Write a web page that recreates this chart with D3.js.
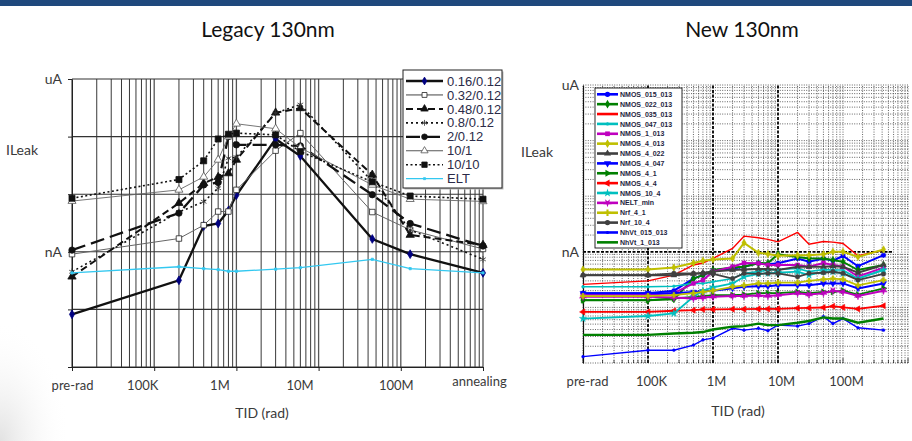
<!DOCTYPE html>
<html>
<head>
<meta charset="utf-8">
<title>Legacy vs New 130nm - ILeak vs TID</title>
<script src="https://cdn.jsdelivr.net/npm/d3@7"></script>
<style>
  body { margin: 0; background: #fff; }
  svg { display: block; font-family: Lato, "Open Sans", sans-serif; }
</style>
</head>
<body>
<script>
const W = 912, H = 441;

// ---- Legacy 130nm : leakage in nA, TID in rad (pre-rad drawn at 1e4, annealing at 1e9)
const legacyTid = [1e4, 2e5, 4e5, 6e5, 8e5, 1e6, 3e6, 6e6, 4.5e7, 1.3e8, 1e9];
const legacyNames = ["0.16/0.12", "0.32/0.12", "0.48/0.12", "0.8/0.12", "2/0.12", "10/1", "10/10", "ELT"];
const leg016 = [0.082, 0.32, 2.8, 3.1, 5.2, 9.6, 91, 46, 1.67, 0.91, 0.43];
const leg032 = [0.91, 1.7, 2.9, 5.0, 5.0, 11.9, 57, 115, 4.9, 2.4, 1.12];
const leg048 = [0.37, 7.0, 15.5, 19.8, 23, 39.5, 260, 310, 21.7, 1.96, 1.31];
const leg08 = [0.45, 4.9, 7.4, 12.7, 42, 44, 256, 360, 16.6, 2.4, 0.74];
const leg2 = [1.07, 4.7, 14.5, 16, 100, 72, 72, 69, 9.8, 3.1, 1.26];
const leg10_1 = [7.6, 11.9, 20, 39.5, 100, 167, 137, 64, 14.5, 8.2, 7.5];
const leg10_10 = [8.5, 18, 38, 91, 110, 115, 107, 55, 16.4, 9.3, 8.2];
const legELT = [0.43, 0.55, 0.51, 0.49, 0.46, 0.46, 0.50, 0.53, 0.74, 0.51, 0.43];
const legacyTicks = [1e4, 1e5, 1e6, 1e7, 1e8, 1e9];
const legacyTickLabels = ["pre-rad", "100K", "1M", "10M", "100M", "annealing"];

// ---- New 130nm : leakage in nA (pre-rad drawn at 1e4)
const newTid = [1e4, 1e5, 2.5e5, 5e5, 7e5, 1e6, 2e6, 3e6, 5e6, 7e6, 1e7, 2e7, 3e7, 5e7, 7e7, 1e8, 1.7e8, 4.2e8];
const newNames = ["NMOS_015_013", "NMOS_022_013", "NMOS_035_013", "NMOS_047_013", "NMOS_1_013",
  "NMOS_4_013", "NMOS_4_022", "NMOS_4_047", "NMOS_4_1", "NMOS_4_4", "NMOS_10_4", "NELT_min",
  "Nrf_4_1", "Nrf_10_4", "NhVt_015_013", "NhVt_1_013"];
const nmos015_013 = [.18, .18, .20, .33, .38, .46, .50, .54, .63, .60, .62, .76, .66, .76, .69, .84, .55, .87];
const nmos022_013 = [.135, .135, .14, .33, .38, .47, .52, .54, .62, .63, .90, .81, .76, .76, .71, .66, .47, .58];
const nmos035_013 = [.26, .30, .38, .58, .63, .76, 1.15, 1.91, 1.79, 1.67, 1.51, 2.23, 1.37, 1.53, 1.49, 1.41, .85, 1.07];
const nmos047_013 = [.235, .235, .24, .27, .27, .29, .33, .41, .44, .47, .48, .50, .44, .48, .47, .47, .33, .48];
const nmos1_013 = [.17, .17, .18, .27, .31, .44, .54, .63, .62, .58, .58, .58, .54, .63, .58, .54, .36, .52];
const nmos4_013 = [.48, .48, .52, .63, .69, .73, .76, 1.45, .96, .91, .85, .87, .87, .90, 1.0, 1.0, .81, 1.10];
const nmos4_022 = [.38, .38, .38, .40, .42, .44, .47, .48, .49, .49, .47, .54, .54, .54, .55, .54, .42, .58];
const nmos4_047 = [.18, .18, .18, .19, .195, .20, .22, .235, .24, .24, .25, .25, .25, .27, .27, .27, .22, .27];
const nmos4_1 = [.135, .135, .145, .155, .16, .166, .166, .17, .18, .18, .18, .19, .18, .19, .19, .20, .17, .22];
const nmos4_4 = [.083, .083, .087, .089, .092, .092, .093, .093, .094, .094, .094, .097, .098, .0995, .105, .10, .094, .107];
const nmos10_4 = [.063, .070, .078, .155, .20, .23, .27, .355, .40, .41, .42, .44, .38, .44, .44, .41, .33, .47];
const neltMin = [.155, .155, .15, .145, .15, .155, .16, .16, .164, .16, .166, .18, .17, .18, .20, .19, .16, .20];
const nrf4_1 = [.16, .16, .166, .18, .19, .20, .235, .25, .27, .27, .28, .28, .30, .32, .33, .32, .25, .31];
const nrf10_4 = [.38, .38, .41, .41, .41, .40, .33, .41, .40, .41, .41, .355, .41, .42, .44, .41, .31, .40];
const nhvt015_013 = [.013, .017, .017, .021, .026, .028, .042, .039, .042, .038, .048, .046, .051, .068, .051, .063, .043, .039];
const nhvt1_013 = [.032, .032, .034, .035, .036, .040, .045, .046, .051, .048, .048, .053, .057, .066, .063, .063, .053, .063];
const newTicks = [1e4, 1e5, 1e6, 1e7, 1e8];
const newTickLabels = ["pre-rad", "100K", "1M", "10M", "100M"];

const isDecade = d => Math.abs(Math.log10(d) - Math.round(Math.log10(d))) < 1e-6;
const textCol = "#3a3a3a";

const svg = d3.select("body").append("svg").attr("width", W).attr("height", H);

// slide background
const defs = svg.append("defs");
const shade = defs.append("radialGradient").attr("id", "shade")
  .attr("cx", 0).attr("cy", 1).attr("r", 1);
shade.append("stop").attr("offset", 0).attr("stop-color", "#e2e2e2");
shade.append("stop").attr("offset", 1).attr("stop-color", "#ffffff").attr("stop-opacity", 0);
svg.append("rect").attr("width", W).attr("height", H).attr("fill", "#fff");
svg.append("rect").attr("x", 0).attr("y", 320).attr("width", 70).attr("height", 121).attr("fill", "url(#shade)");
svg.append("rect").attr("width", W).attr("height", 6).attr("fill", "#1f497d");

// titles
svg.append("text").attr("x", 268).attr("y", 37).attr("text-anchor", "middle")
  .attr("font-size", 21).attr("fill", "#111").text("Legacy 130nm");
svg.append("text").attr("x", 742).attr("y", 37).attr("text-anchor", "middle")
  .attr("font-size", 21).attr("fill", "#111").text("New 130nm");

function symbolPath(kind, size) {
  const t = {
    circle: d3.symbolCircle, diamond: d3.symbolDiamond, square: d3.symbolSquare,
    triangle: d3.symbolTriangle, triangleDown: d3.symbolTriangle, triangleRight: d3.symbolTriangle,
    triangleLeft: d3.symbolTriangle, star: d3.symbolStar, star6: d3.symbolStar,
    plus: d3.symbolCross, asterisk: d3.symbolAsterisk, times: d3.symbolTimes, point: d3.symbolCircle
  }[kind];
  return d3.symbol().type(t).size(size)();
}
const symbolRot = { triangleDown: 180, triangleRight: 90, triangleLeft: -90, star6: 36 };

// =================== Legacy 130nm ===================
const xL = d3.scaleLog().domain([1e4, 1e9]).range([72, 483]);
const yL = d3.scaleLog().domain([0.01, 1000]).range([367, 79]);
const gL = svg.append("g");

gL.append("g").selectAll("line").data(xL.ticks()).join("line")
  .attr("x1", d => xL(d)).attr("x2", d => xL(d))
  .attr("y1", yL(0.01)).attr("y2", yL(1000))
  .attr("stroke", d => isDecade(d) ? "#555" : "#222").attr("stroke-width", d => isDecade(d) ? 1.3 : 0.9);
gL.append("g").selectAll("line").data(yL.ticks().filter(isDecade)).join("line")
  .attr("x1", xL(1e4)).attr("x2", xL(1e9))
  .attr("y1", d => yL(d)).attr("y2", d => yL(d))
  .attr("stroke", "#333").attr("stroke-width", 1.1);

// axes
const labelShiftL = [0, -12, -17, -19, -5, -4];
const axL = gL.append("g").attr("transform", `translate(0,${yL(0.01)})`)
  .call(d3.axisBottom(xL).tickValues(legacyTicks).tickSize(4).tickSizeOuter(0).tickPadding(10)
    .tickFormat((d, i) => legacyTickLabels[i]));
axL.select(".domain").attr("stroke", "#222");
axL.selectAll(".tick line").attr("stroke", "#222");
axL.selectAll(".tick text").attr("font-size", 13).attr("fill", textCol).attr("font-family", "Lato")
  .attr("dx", (d, i) => labelShiftL[i]).attr("dy", (d, i) => i === 5 ? "0.4em" : "0.71em");
const ayL = gL.append("g").attr("transform", `translate(${xL(1e4)},0)`)
  .call(d3.axisLeft(yL).tickValues(yL.ticks().filter(isDecade)).tickSize(4).tickSizeOuter(0).tickPadding(6)
    .tickFormat(d => d === 1000 ? "uA" : d === 1 ? "nA" : ""));
ayL.select(".domain").attr("stroke", "#222");
ayL.selectAll(".tick line").attr("stroke", "#222");
ayL.selectAll(".tick text").attr("font-size", 14).attr("fill", textCol).attr("font-family", "Lato");

svg.append("text").attr("x", 22).attr("y", 155).attr("text-anchor", "middle")
  .attr("font-size", 14).attr("fill", textCol).text("ILeak");
svg.append("text").attr("x", 262).attr("y", 418).attr("text-anchor", "middle")
  .attr("font-size", 14).attr("fill", textCol).text("TID (rad)");

const legacySeries = [leg016, leg032, leg048, leg08, leg2, leg10_1, leg10_10, legELT];
const legacyStyle = [
  { stroke: "#111", width: 2.3, dash: null, sym: "diamond", size: 22, fill: "#000080", symStroke: "#000080" },
  { stroke: "#666", width: 1, dash: null, sym: "square", size: 30, fill: "#fff", symStroke: "#222" },
  { stroke: "#111", width: 2, dash: "7,4", sym: "triangle", size: 30, fill: "#111", symStroke: "#111" },
  { stroke: "#111", width: 1.6, dash: "2,3", sym: "asterisk", size: 30, fill: "none", symStroke: "#333" },
  { stroke: "#111", width: 2.3, dash: "14,6", sym: "circle", size: 32, fill: "#111", symStroke: "#111" },
  { stroke: "#666", width: 0.9, dash: null, sym: "triangle", size: 28, fill: "#fff", symStroke: "#555" },
  { stroke: "#111", width: 1.6, dash: "2,2.5", sym: "square", size: 36, fill: "#111", symStroke: "#111" },
  { stroke: "#33c8f0", width: 1.3, dash: null, sym: "square", size: 5, fill: "#33c8f0", symStroke: "#33c8f0" }
];
const lineL = d3.line().x((d, i) => xL(legacyTid[i])).y(d => yL(d));

legacySeries.forEach((vals, k) => {
  const st = legacyStyle[k];
  const g = gL.append("g");
  g.append("path").attr("d", lineL(vals)).attr("fill", "none")
    .attr("stroke", st.stroke).attr("stroke-width", st.width).attr("stroke-dasharray", st.dash);
  g.selectAll("path.m").data(vals).join("path").attr("class", "m")
    .attr("transform", (d, i) => `translate(${xL(legacyTid[i])},${yL(d)})`)
    .attr("d", symbolPath(st.sym, st.size))
    .attr("fill", st.fill).attr("stroke", st.symStroke).attr("stroke-width", 0.8);
});

// legacy legend
const lgL = svg.append("g").attr("transform", "translate(403,70)");
lgL.append("rect").attr("x", 1.5).attr("y", 1.5).attr("width", 99).attr("height", 118).attr("fill", "#bbb");
lgL.append("rect").attr("width", 99).attr("height", 118).attr("fill", "#fff").attr("stroke", "#222").attr("stroke-width", 1);
legacyNames.forEach((name, k) => {
  const st = legacyStyle[k];
  const yy = 11 + k * 13.95;
  lgL.append("line").attr("x1", 3).attr("x2", 40).attr("y1", yy).attr("y2", yy)
    .attr("stroke", st.stroke === "#666" ? "#444" : st.stroke).attr("stroke-width", st.width)
    .attr("stroke-dasharray", st.dash);
  lgL.append("path").attr("transform", `translate(21.5,${yy})`).attr("d", symbolPath(st.sym, st.size * 0.8))
    .attr("fill", st.fill).attr("stroke", st.symStroke).attr("stroke-width", 0.8);
  lgL.append("text").attr("x", 44).attr("y", yy + 4.6).attr("font-family", "Liberation Sans")
    .attr("font-size", 13).attr("fill", "#2b2b48").text(name);
});

// =================== New 130nm ===================
const xR = d3.scaleLog().domain([1e4, 1e9]).range([583, 908]);
const yR = d3.scaleLog().domain([0.01, 1000]).range([363, 85]);
const gR = svg.append("g");

const majorX = [1e5, 1e6, 1e7];
gR.append("g").selectAll("line").data(xR.ticks().filter(d => !majorX.includes(d))).join("line")
  .attr("x1", d => xR(d)).attr("x2", d => xR(d)).attr("y1", yR(0.01)).attr("y2", yR(1000))
  .attr("stroke", "#222").attr("stroke-width", 0.7).attr("stroke-dasharray", "1,1.4");
gR.append("g").selectAll("line").data(yR.ticks().filter(d => d !== 1)).join("line")
  .attr("x1", xR(1e4)).attr("x2", xR(1e9)).attr("y1", d => yR(d)).attr("y2", d => yR(d))
  .attr("stroke", "#222").attr("stroke-width", 0.7).attr("stroke-dasharray", "1,1.4");
gR.append("g").selectAll("line").data(majorX).join("line")
  .attr("x1", d => xR(d)).attr("x2", d => xR(d)).attr("y1", yR(0.01)).attr("y2", yR(1000))
  .attr("stroke", "#000").attr("stroke-width", 1.8).attr("stroke-dasharray", "3,1.5");
gR.append("line").attr("x1", xR(1e4)).attr("x2", xR(4.2e8) + 10).attr("y1", yR(1)).attr("y2", yR(1))
  .attr("stroke", "#000").attr("stroke-width", 1.8).attr("stroke-dasharray", "3,1.5");

// inward ticks at the bottom
gR.append("g").selectAll("line").data(xR.ticks()).join("line")
  .attr("x1", d => xR(d)).attr("x2", d => xR(d))
  .attr("y1", yR(0.01)).attr("y2", d => yR(0.01) - (isDecade(d) ? 5 : 3))
  .attr("stroke", "#222").attr("stroke-width", 0.8);

const axR = gR.append("g").attr("transform", `translate(0,${yR(0.01)})`)
  .call(d3.axisBottom(xR).tickValues(newTicks).tickSize(0).tickPadding(14)
    .tickFormat((d, i) => newTickLabels[i]));
axR.select(".domain").remove();
axR.selectAll(".tick text").attr("font-size", 13).attr("fill", textCol).attr("font-family", "Lato")
  .attr("dx", (d, i) => i === 0 ? 4 : 3);
const ayR = gR.append("g").attr("transform", `translate(${xR(1e4)},0)`)
  .call(d3.axisLeft(yR).tickValues([1, 1000]).tickSize(0).tickSizeOuter(0).tickPadding(4)
    .tickFormat(d => d === 1000 ? "uA" : "nA"));
ayR.select(".domain").attr("stroke", "#111").attr("stroke-width", 1.2);
ayR.selectAll(".tick text").attr("font-size", 14).attr("fill", textCol).attr("font-family", "Lato");

svg.append("text").attr("x", 537).attr("y", 157).attr("text-anchor", "middle")
  .attr("font-size", 14).attr("fill", textCol).text("ILeak");
svg.append("text").attr("x", 738).attr("y", 416).attr("text-anchor", "middle")
  .attr("font-size", 14).attr("fill", textCol).text("TID (rad)");

const newSeries = [nmos015_013, nmos022_013, nmos035_013, nmos047_013, nmos1_013, nmos4_013, nmos4_022,
  nmos4_047, nmos4_1, nmos4_4, nmos10_4, neltMin, nrf4_1, nrf10_4, nhvt015_013, nhvt1_013];
const cycle = ["#0000ff", "#008000", "#ff0000", "#00bfbf", "#bf00bf", "#bfbf00", "#404040"];
const newMarkers = ["circle", "diamond", null, "point", "square", "diamond", "triangle", "triangleDown",
  "triangleRight", "triangleLeft", "star", "star6", "plus", "circle", "point", null];
const newWidths = [2, 2, 1.4, 1.6, 2, 2, 2, 2, 1.8, 1.8, 1.8, 2, 1.8, 1.8, 1.4, 2.4];
const lineR = d3.line().x((d, i) => xR(newTid[i])).y(d => yR(d));

newSeries.forEach((vals, k) => {
  const col = cycle[k % 7];
  const g = gR.append("g");
  g.append("path").attr("d", lineR(vals)).attr("fill", "none")
    .attr("stroke", col).attr("stroke-width", newWidths[k]);
  const m = newMarkers[k];
  if (m) {
    g.selectAll("path.m").data(vals).join("path").attr("class", "m")
      .attr("transform", (d, i) => `translate(${xR(newTid[i])},${yR(d)}) rotate(${symbolRot[m] || 0})`)
      .attr("d", symbolPath(m, m === "point" ? 6 : 16))
      .attr("fill", col).attr("stroke", col).attr("stroke-width", 0.5);
  }
});

// new legend
const lgR = svg.append("g").attr("transform", "translate(595,88)");
lgR.append("rect").attr("width", 87).attr("height", 160).attr("fill", "#fff")
  .attr("stroke", "#111").attr("stroke-width", 0.9);
newNames.forEach((name, k) => {
  const col = cycle[k % 7];
  const yy = 6.3 + k * 9.87;
  lgR.append("line").attr("x1", 2).attr("x2", 23).attr("y1", yy).attr("y2", yy)
    .attr("stroke", col).attr("stroke-width", 2.6);
  const m = newMarkers[k];
  if (m) {
    lgR.append("path").attr("transform", `translate(12.5,${yy}) rotate(${symbolRot[m] || 0})`)
      .attr("d", symbolPath(m, m === "point" ? 8 : 22)).attr("fill", col);
  }
  lgR.append("text").attr("x", 25).attr("y", yy + 2.6).attr("font-family", "Liberation Sans")
    .attr("font-size", 7).attr("font-weight", "bold").attr("fill", "#1e1e40").text(name);
});
</script>
</body>
</html>
